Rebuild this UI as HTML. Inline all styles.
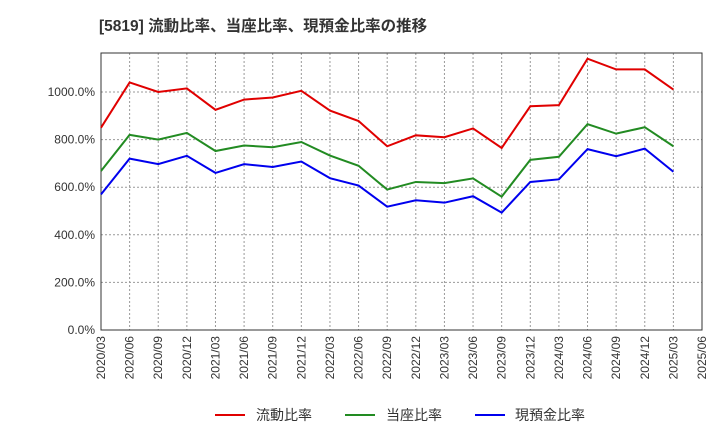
<!DOCTYPE html>
<html><head><meta charset="utf-8"><style>
body{margin:0;background:#fff;font-family:"Liberation Sans","Noto Sans CJK JP",sans-serif}
</style></head><body>
<svg width="720" height="440" xmlns="http://www.w3.org/2000/svg">
<text x="99" y="31" font-size="15.5" font-weight="bold" fill="#333" font-family="Liberation Sans, Noto Sans CJK JP, sans-serif">[5819]  流動比率、当座比率、現預金比率の推移</text>
<g id="grid"></g><g id="axes"></g><g id="series"></g>
<g font-size="14" fill="#333">
<line x1="215" y1="415" x2="245" y2="415" stroke="#e00000" stroke-width="2"/><text x="256" y="420">流動比率</text>
<line x1="345" y1="415" x2="375" y2="415" stroke="#228b22" stroke-width="2"/><text x="386" y="420">当座比率</text>
<line x1="475" y1="415" x2="505" y2="415" stroke="#0000ee" stroke-width="2"/><text x="515" y="420">現預金比率</text>
</g>
</svg>
<script>
const categories=["2020/03","2020/06","2020/09","2020/12","2021/03","2021/06","2021/09","2021/12","2022/03","2022/06","2022/09","2022/12","2023/03","2023/06","2023/09","2023/12","2024/03","2024/06","2024/09","2024/12","2025/03","2025/06"];
const currentRatio=[850,1040,1000,1015,925,968,977,1005,922,878,772,818,810,847,765,940,945,1140,1095,1095,1010];
const quickRatio=[668,820,800,828,752,775,768,790,733,690,590,622,617,637,560,715,728,865,825,852,772];
const cashRatio=[570,720,697,732,660,697,685,708,638,607,518,545,535,562,493,622,633,760,730,762,665];
const yTicks=[0,200,400,600,800,1000];
const NS="http://www.w3.org/2000/svg";
const L=101,R=702,T=53,B=330;
const x=i=>L+i*(R-L)/(categories.length-1);
const y=v=>B-v*0.238;
function mk(t,a,p){const e=document.createElementNS(NS,t);for(const k in a)e.setAttribute(k,a[k]);p.appendChild(e);return e;}
const grid=document.getElementById('grid'),axes=document.getElementById('axes'),ser=document.getElementById('series');
mk('rect',{x:L,y:T,width:R-L,height:B-T,fill:'none',stroke:'#333','stroke-width':1},axes);
yTicks.forEach(v=>{
 const g=mk('line',{x1:L,x2:R,y1:y(v),y2:y(v),stroke:'#999','stroke-dasharray':'2,2'},grid);
 
 
 const t=mk('text',{x:L-6,y:y(v)+4,'text-anchor':'end','font-size':12,fill:'#333'},axes);
 t.textContent=v.toFixed(1)+'%';
 
 
});
categories.forEach((c,i)=>{
 if(i>0&&i<categories.length-1){const g=mk('line',{x1:x(i),x2:x(i),y1:T,y2:B,stroke:'#999','stroke-dasharray':'2,2'},grid);
 
 }
 const t=mk('text',{transform:`translate(${x(i)+4},${B+6}) rotate(-90)`,'text-anchor':'end','font-size':12,fill:'#333'},axes);
 t.textContent=c;
 
 
});
[[currentRatio,'#e00000','current-ratio-line'],[quickRatio,'#228b22','quick-ratio-line'],[cashRatio,'#0000ee','cash-ratio-line']].forEach(([d,c,n])=>{
 const p=mk('polyline',{points:d.map((v,i)=>x(i)+','+y(v)).join(' '),fill:'none',stroke:c,'stroke-width':2},ser);
 
 
});
</script>
</body></html>
